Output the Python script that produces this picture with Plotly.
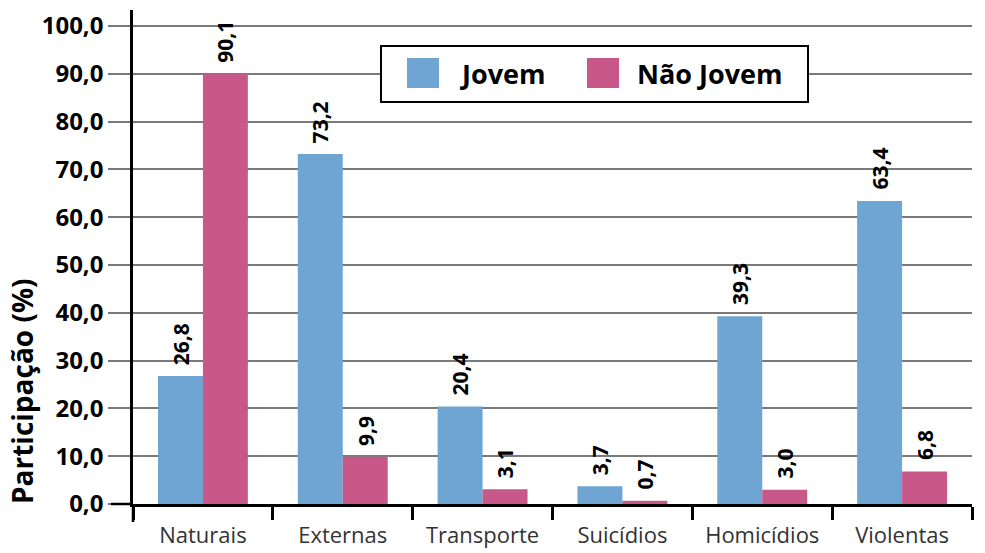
import plotly.graph_objects as go

categories = ["Naturais", "Externas", "Transporte", "Suicídios", "Homicídios", "Violentas"]
jovem = [26.8, 73.2, 20.4, 3.7, 39.3, 63.4]
nao_jovem = [90.1, 9.9, 3.1, 0.7, 3.0, 6.8]
series_names = ["Jovem", "Não Jovem"]
y_ticks = [0, 10, 20, 30, 40, 50, 60, 70, 80, 90, 100]
y_title = "Participação (%)"

BLUE = "#6FA5D3"
PINK = "#C8588A"
GRID = "#7a7a7a"
FONT = "Open Sans"
BARGAP = 0.357

fig = go.Figure()
for name, vals, col in [(series_names[0], jovem, BLUE), (series_names[1], nao_jovem, PINK)]:
    fig.add_trace(go.Bar(
        x=categories, y=vals, name=name, marker=dict(color=col, line=dict(width=0)),
        showlegend=False,
    ))

fig.update_layout(
    width=985, height=553,
    margin=dict(l=133, r=13, t=10, b=49),
    paper_bgcolor="white", plot_bgcolor="white",
    barmode="group", bargap=BARGAP, bargroupgap=0,
    separators=",.",
    font=dict(family=FONT, color="black"),
)
fig.update_yaxes(
    range=[0, 103.35], tickvals=y_ticks, tickformat=".1f",
    tickfont=dict(family=FONT, size=24, color="black", weight="bold"),
    showgrid=True, gridcolor=GRID, gridwidth=1.5,
    ticks="outside", ticklen=22, tickcolor=GRID, tickwidth=1.5,
    showline=True, linecolor="black", linewidth=2.5,
    zeroline=False, automargin=False,
)
fig.update_xaxes(
    tickson="boundaries", ticks="outside", ticklen=13, tickcolor="black", tickwidth=2.5,
    showline=True, linecolor="black", linewidth=2.5,
    tickfont=dict(family=FONT, size=22, color="#333333"),
    ticklabelstandoff=10,
    showgrid=False, automargin=False,
)

PW, PH = 839, 494
def px(x):
    return (x - 133) / PW
def py(y):
    return (504 - y) / PH

# y-axis title (placed low, as in the reference)
fig.add_annotation(xref="paper", yref="paper", x=px(22), y=py(391), text=y_title, showarrow=False,
                   textangle=-90, xanchor="center", yanchor="middle",
                   font=dict(family=FONT, size=28, color="black", weight="bold"))

# value labels above bars (offset to each bar of the group)
cat_px = PW / len(categories)
bar_w = (1 - BARGAP) / 2
for i, vals in enumerate([jovem, nao_jovem]):
    shift = (-bar_w / 2 if i == 0 else bar_w / 2) * cat_px
    for c, v in zip(categories, vals):
        fig.add_annotation(x=c, y=v, xref="x", yref="y", text=f"{v:.1f}".replace(".", ","),
                           showarrow=False, textangle=-90, xanchor="center", yanchor="bottom",
                           xshift=shift, yshift=9,
                           font=dict(family=FONT, size=21, color="black", weight="bold"))

# y-axis extension below 0 and x-axis extension left of the y-axis
fig.add_shape(type="line", xref="paper", yref="paper", x0=0, x1=0, y0=0, y1=py(522),
              line=dict(color="black", width=2.5))
fig.add_shape(type="line", xref="paper", yref="paper", x0=px(111), x1=0, y0=0, y1=0,
              line=dict(color="black", width=2.5))

# legend box
fig.add_shape(type="rect", xref="paper", yref="paper", x0=px(381), x1=px(808), y0=py(102), y1=py(46),
              line=dict(color="black", width=2), fillcolor="white", layer="above")
for name, col, sx, tx in [(series_names[0], BLUE, 407, 458), (series_names[1], PINK, 587, 635)]:
    fig.add_shape(type="rect", xref="paper", yref="paper", x0=px(sx), x1=px(sx + 32), y0=py(88), y1=py(58),
                  line=dict(width=0), fillcolor=col, layer="above")
    fig.add_annotation(xref="paper", yref="paper", x=px(tx), y=py(73), text=name, showarrow=False,
                       xanchor="left", yanchor="middle",
                       font=dict(family=FONT, size=27, color="black", weight="bold"))

fig.write_html("out.html", config={"displayModeBar": False},
               post_script="document.body.style.margin='0';")
